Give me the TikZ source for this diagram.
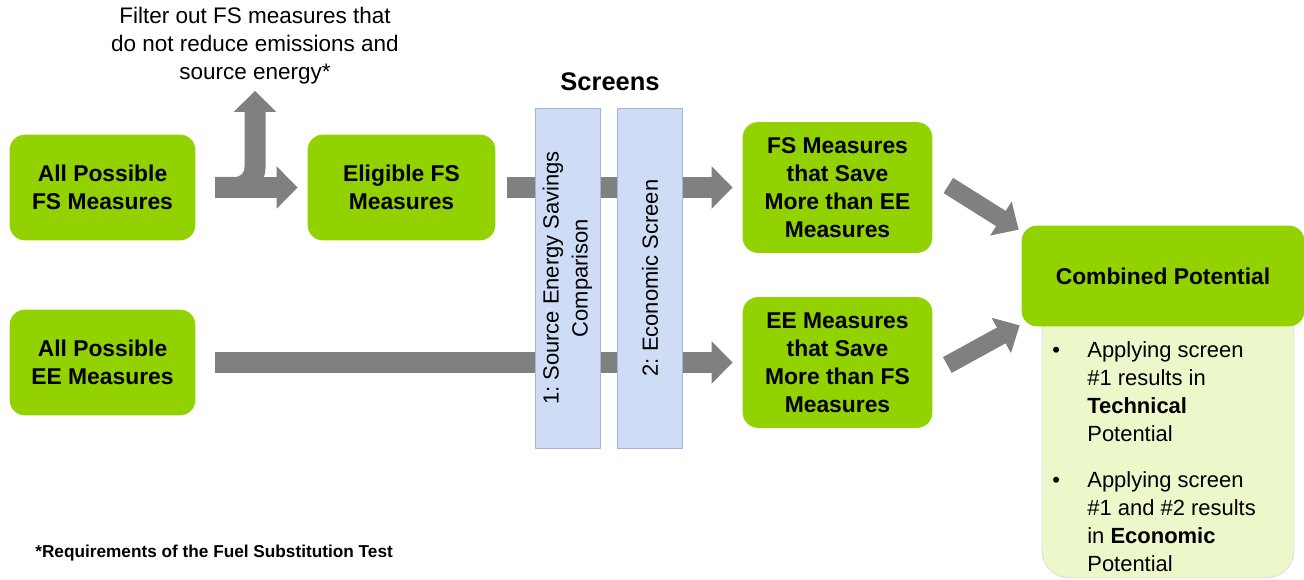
\documentclass[tikz,border=0pt]{standalone}
\usepackage{fontspec}
\setmainfont{Liberation Sans}
\usepackage{array}
\usetikzlibrary{arrows.meta,positioning,calc}

\definecolor{fsgreen}{RGB}{146,210,0}
\definecolor{palegreen}{RGB}{236,247,202}
\definecolor{arrowgray}{RGB}{128,128,128}
\definecolor{screenblue}{RGB}{207,220,245}
\definecolor{screenedge}{RGB}{165,180,210}

\begin{document}
\frenchspacing
\begin{tikzpicture}[
    x=0.02cm, y=-0.02cm,
    box/.style={fill=fsgreen, draw=fsgreen, rounded corners=0.3cm, align=center,
        font=\bfseries\fontsize{13}{16}\selectfont, minimum width=3.7cm, minimum height=2.1cm},
    screen/.style={fill=screenblue, draw=screenedge, rotate=90, minimum width=6.8cm,
        minimum height=1.3cm, align=center, font=\fontsize{12.5}{16.5}\selectfont},
    blockarrow/.style={draw=arrowgray, line width=0.42cm, -{Triangle[width=0.82cm,length=0.42cm]}},
    diagarrow/.style={draw=arrowgray, line width=0.36cm, -{Triangle[width=0.78cm,length=0.42cm]}}
]
\useasboundingbox (0,0) rectangle (1304,580);

% Left column
\node[box] (allfs) at (102.5,187.5) {All Possible\\FS Measures};
\node[box] (allee) at (102.5,362.5) {All Possible\\EE Measures};
\node[box, minimum width=3.74cm] (elig) at (401.5,187.5) {Eligible FS\\Measures};
\node[align=center, font=\fontsize{12.8}{16}\selectfont] (filter) at (255,46)
    {Filter out FS measures that\\do not reduce emissions and\\source energy*};

% Results
\node[box, minimum width=3.78cm, minimum height=2.6cm] (fssave) at (837.5,187.5)
    {FS Measures\\that Save\\More than EE\\Measures};
\node[box, minimum width=3.78cm, minimum height=2.6cm] (eesave) at (837.5,362.5)
    {EE Measures\\that Save\\More than FS\\Measures};

% Combined potential
\node[fill=palegreen, draw=gray!30, rounded corners=0.55cm, minimum width=5.04cm,
    minimum height=5.44cm] (detail) at (1168,442) {};
\node[box, minimum width=5.64cm, minimum height=2cm] (combined) at (1163,276) {Combined Potential};
\node[anchor=north west, inner sep=0pt, font=\fontsize{12.5}{16}\selectfont] (notes) at (1052,337) {%
    \begin{tabular}{@{}p{0.7cm}@{}>{\raggedright\arraybackslash}p{3.5cm}@{}}
    \textbullet & Applying screen \#1 results in \textbf{Technical} Potential\\
    \noalign{\vskip 10pt}
    \textbullet & Applying screen \#1 and \#2 results in \textbf{Economic} Potential
    \end{tabular}};

% Arrows
\draw[blockarrow, shorten <=0.4cm, shorten >=0.2cm] (allfs) -- (elig);
\draw[blockarrow, rounded corners=0.4cm, shorten <=0.4cm] (allfs.east) -| (filter.south);
\draw[blockarrow, shorten <=0.24cm, shorten >=0.2cm] (elig) -- (fssave);
\draw[blockarrow, shorten <=0.4cm, shorten >=0.2cm] (allee) -- (eesave);
\draw[diagarrow] ([shift={(16,-2)}]fssave.east) -- ([shift={(-3,4)}]combined.north west);
\draw[diagarrow] ([shift={(15,2.5)}]eesave.east) -- ([shift={(-2,-1)}]combined.south west);

% Screens
\node[font=\bfseries\fontsize{14.5}{17}\selectfont] (screens) at (610,82) {Screens};
\node[screen] (scr1) at (567.5,278) {1: Source Energy Savings\\Comparison};
\node[screen] (scr2) at (650,278) {2: Economic Screen};

\node[anchor=west, inner sep=0pt, font=\bfseries\fontsize{9.8}{12}\selectfont] (footnote) at (35,553)
    {*Requirements of the Fuel Substitution Test};
\end{tikzpicture}
\end{document}
